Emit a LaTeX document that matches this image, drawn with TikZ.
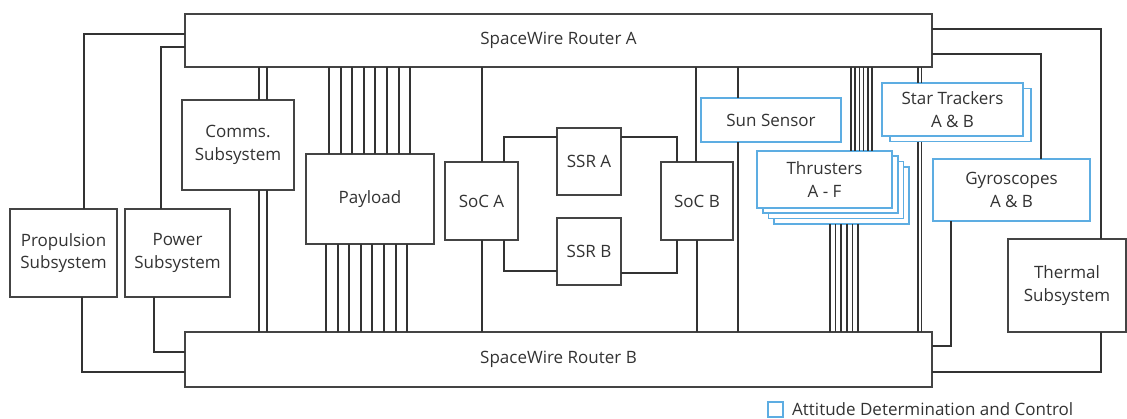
\documentclass[tikz,border=0pt]{standalone}
\usepackage{fontspec}
\setmainfont{Open Sans}
\usepackage{xcolor}
\usepackage{tikz}
\usetikzlibrary{positioning,calc}
\definecolor{adcsblue}{HTML}{5DADE2}
\definecolor{wiregray}{HTML}{333333}
\definecolor{boxgray}{HTML}{444444}

\begin{document}
\begin{tikzpicture}[
    x=1pt, y=-1pt,
    node distance=9pt,
    box/.style={rectangle, draw=boxgray, fill=white, line width=1.4pt, align=center, inner sep=1pt, outer sep=0pt, text=black!80, font=\fontsize{17}{22.5}\selectfont},
    adcs/.style={box, draw=adcsblue, line width=1.7pt},
    sized/.style 2 args={minimum width=#1pt, minimum height=#2pt},
    wire/.style={draw=wiregray, line width=2pt}
]
    \useasboundingbox (0,0) rectangle (1127,418);

    \node [box, sized={747}{53}] (routerA) at (558.5,40.5) {SpaceWire Router A};
    \node [box, sized={747}{55}] (routerB) at (558.5,359.5) {SpaceWire Router B};
    \node [box, sized={107}{88}] (prop) at (63.5,253) {Propulsion\\Subsystem};
    \node [box, sized={105}{88}] (power) at (177.5,253) {Power\\Subsystem};
    \node [box, sized={112}{90}] (comms) at (238,145) {Comms.\\Subsystem};
    \node [box, sized={128}{90}] (payload) at (370,199) {Payload};
    \node [box, sized={73}{78}] (socA) at (481.5,201) {SoC A};
    \node [box, sized={64}{67}] (ssrA) at (589,161.5) {SSR A};
    \node [box, sized={64}{67}] (ssrB) at (589,251.5) {SSR B};
    \node [box, sized={72}{78}] (socB) at (697,201) {SoC B};
    \node [box, sized={118}{93}] (thermal) at (1067,285.5) {Thermal\\Subsystem};

    \node [adcs, sized={140}{44}] (sun) at (771,120) {Sun Sensor};
    \foreach \i in {3,2,1}
        \node [adcs, sized={135}{57}] (thr\i) at ($(824.5,179.5)+(\i*5.7,\i*5.3)$) {};
    \node [adcs, sized={135}{57}] (thr) at (824.5,179.5) {Thrusters\\A - F};
    \node [adcs, sized={141}{53}] (star1) at (960.5,115) {};
    \node [adcs, sized={141}{53}] (star) at (952.5,109.5) {Star Trackers\\A \& B};
    \node [adcs, sized={157}{62}] (gyro) at (1011.5,190) {Gyroscopes\\A \& B};

    \draw [wire] (84,0 |- prop.north) |- (routerA.west |- 0,34);
    \draw [wire] (82,0 |- prop.south) |- (routerB.west |- 0,372);
    \draw [wire] (161,0 |- power.north) |- (routerA.west |- 0,47);
    \draw [wire] (154,0 |- power.south) |- (routerB.west |- 0,352);
    \foreach \x in {259,267} {
        \draw [wire] (\x,0 |- routerA.south) -- (\x,0 |- comms.north);
        \draw [wire] (\x,0 |- comms.south) -- (\x,0 |- routerB.north);
    }
    \foreach \i in {0,...,7} {
        \draw [wire] (329+\i*11.6,0 |- routerA.south) -- (329+\i*11.6,0 |- payload.north);
        \draw [wire] (326+\i*11.6,0 |- payload.south) -- (326+\i*11.6,0 |- routerB.north);
    }
    \draw [wire] (482,0 |- routerA.south) -- (482,0 |- socA.north);
    \draw [wire] (482,0 |- socA.south) -- (482,0 |- routerB.north);
    \draw [wire] (504,0 |- socA.north) |- (ssrA.west |- 0,137);
    \draw [wire] (ssrA.east |- 0,137) -| (677,0 |- socB.north);
    \draw [wire] (504,0 |- socA.south) |- (ssrB.west |- 0,271);
    \draw [wire] (ssrB.east |- 0,273) -| (677,0 |- socB.south);
    \draw [wire] (696,0 |- routerA.south) -- (696,0 |- socB.north);
    \draw [wire] (697,0 |- socB.south) -- (697,0 |- routerB.north);
    \draw [wire] (738,0 |- routerA.south) -- (738,0 |- sun.north);
    \draw [wire] (738,0 |- sun.south) -- (738,0 |- routerB.north);
    \foreach \i in {0,...,5} {
        \draw [wire, line width=1.6pt] (851+\i*4.2,0 |- routerA.south) -- (851+\i*4.2,0 |- thr.north);
        \draw [wire, line width=1.6pt] (830+\i*5.6,0 |- thr3.south) -- (830+\i*5.6,0 |- routerB.north);
    }
    \foreach \x in {918,921.5} {
        \draw [wire, line width=1.6pt] (\x,0 |- routerA.south) -- (\x,0 |- star.north);
        \draw [wire, line width=1.6pt] (\x,0 |- star1.south) -- (\x,0 |- routerB.north);
    }
    \draw [wire] (routerA.east |- 0,54) -| (1041,0 |- gyro.north);
    \draw [wire] (951,0 |- gyro.south) |- (routerB.east |- 0,346);
    \draw [wire] (routerA.east |- 0,29) -| (1101,0 |- thermal.north);
    \draw [wire] (1101,0 |- thermal.south) |- (routerB.east |- 0,372);

    \node [adcs, minimum size=15pt, inner sep=0pt] (legend) at (775.5,409.5) {};
    \node [anchor=base west, inner sep=0pt, text=black!80, font=\fontsize{17}{20}\selectfont] (legendtext) at (792,415) {Attitude Determination and Control};
\end{tikzpicture}
\end{document}
